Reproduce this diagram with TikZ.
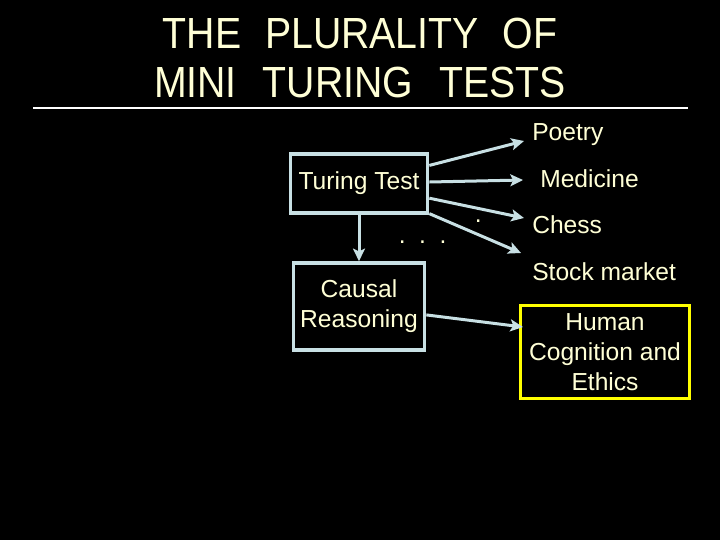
\documentclass[tikz,border=0pt]{standalone}
\usepackage{fontspec}
\setmainfont{Liberation Sans}
\newfontfamily\titlefont[FakeStretch=0.9]{Liberation Sans}
\usetikzlibrary{arrows.meta, positioning}
\definecolor{slidecream}{RGB}{255, 255, 214}
\definecolor{slideblue}{RGB}{200, 224, 228}
\definecolor{slideyellow}{RGB}{255, 255, 0}

\begin{document}
\begin{tikzpicture}[x=0.025cm, y=-0.025cm,
    testbox/.style={draw=slideblue, line width=0.09cm, align=center, text=slidecream, font=\fontsize{17.5}{21.3}\selectfont, inner sep=0pt},
    areatext/.style={text=slidecream, font=\fontsize{17.5}{21.3}\selectfont, inner sep=0pt, anchor=base west},
    titletext/.style={text=slidecream, font=\titlefont\fontsize{31}{35}\selectfont, inner sep=0pt, anchor=base},
    link/.style={-{Stealth[length=9pt, width=8.5pt, inset=2pt]}, line width=0.075cm, slideblue}]
    \fill[black] (0,0) rectangle (720,540);
    \useasboundingbox (0,0) rectangle (720,540);
    % title
    \node[titletext] (title1) at (360,48) {THE\hspace{0.55em}PLURALITY\hspace{0.55em}OF};
    \node[titletext] (title2) at (360,97) {MINI\hspace{0.6em}TURING\hspace{0.6em}TESTS};
    \draw[white, line width=0.05cm] (33,108) -- (688,108);
    % tests
    \node[testbox, minimum width=3.425cm, minimum height=1.475cm] (tt) at (359,183.5) {Turing Test};
    \node[testbox, minimum width=3.275cm, minimum height=2.175cm, below=1.16cm of tt] (cr) {Causal\\Reasoning};
    \node[testbox, draw=slideyellow, line width=0.075cm, minimum width=4.225cm, minimum height=2.325cm] (hce) at (605,352) {Human\\Cognition and\\Ethics};
    \node[areatext] (poetry) at (532,140) {Poetry};
    \node[areatext] (medicine) at (540,187) {Medicine};
    \node[areatext] (chess) at (532,233) {Chess};
    \node[areatext] (stock) at (532,280) {Stock market};
    \node[areatext] (dots) at (398.5,243.5) {.\hspace{0.55em}.\hspace{0.55em}.};
    \node[areatext] (dot) at (474.5,222.5) {.};
    % arrow ends
    \coordinate (poetryend) at (524,141);
    \coordinate (medicineend) at (523,180);
    \coordinate (chessend) at (524,218);
    \coordinate (stockend) at (521,253);
    \coordinate (hceend) at (523,327);
    \draw[link] (tt) -- (poetryend);
    \draw[link] (tt) -- (medicineend);
    \draw[link] (tt) -- (chessend);
    \draw[link] (tt) -- (stockend);
    \draw[link] (tt) -- (cr);
    \draw[link] (cr) -- (hceend);
\end{tikzpicture}
\end{document}
